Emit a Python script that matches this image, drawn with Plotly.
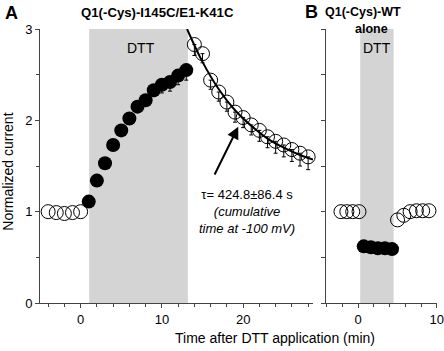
import plotly.graph_objects as go

# Panel A data
a_base_x = [-4, -3, -2, -1, 0]
a_base_y = [1.00, 0.99, 0.98, 0.99, 1.00]
a_dtt_x = [1, 2, 3, 4, 5, 6, 7, 8, 9, 10, 11, 12, 13]
a_dtt_y = [1.11, 1.34, 1.53, 1.73, 1.89, 2.02, 2.15, 2.22, 2.33, 2.39, 2.42, 2.49, 2.55]
a_dtt_err = [0.02, 0.03, 0.03, 0.04, 0.04, 0.05, 0.05, 0.06, 0.07, 0.09, 0.10, 0.10, 0.11]
a_wash_x = [14, 15, 16, 17, 18, 19, 20, 21, 22, 23, 24, 25, 26, 27, 28]
a_wash_y = [2.83, 2.73, 2.44, 2.31, 2.20, 2.09, 2.03, 1.95, 1.89, 1.82, 1.77, 1.73, 1.68, 1.64, 1.60]
a_wash_err = [0.12, 0.10, 0.10, 0.10, 0.10, 0.11, 0.11, 0.11, 0.12, 0.12, 0.13, 0.13, 0.13, 0.14, 0.14]
fit_x = [13.1, 15, 17, 19, 21, 23, 25, 27, 28.6]
fit_y = [3.00, 2.64, 2.34, 2.11, 1.94, 1.80, 1.70, 1.62, 1.57]

# Panel B data
b_base_x = [-2.2, -1.45, -0.7, 0.1]
b_base_y = [1.00, 1.00, 1.00, 1.00]
b_dtt_x = [0.7, 1.6, 2.5, 3.4, 4.3]
b_dtt_y = [0.62, 0.61, 0.60, 0.60, 0.59]
b_wash_x = [5.0, 5.8, 6.6, 7.4, 8.2, 9.0]
b_wash_y = [0.91, 0.96, 1.00, 1.01, 1.01, 1.01]

a_dtt_window = [1.05, 13.2]
b_dtt_window = [0.25, 4.5]

FONT = "Liberation Sans, Arial, sans-serif"
MS = 14

fig = go.Figure()

# Panel A
fig.add_trace(go.Scatter(x=fit_x, y=fit_y, mode="lines", line=dict(color="black", width=2, shape="spline"),
                         xaxis="x", yaxis="y", cliponaxis=True))
fig.add_trace(go.Scatter(x=a_base_x, y=a_base_y, mode="markers",
                         marker=dict(symbol="circle-open", size=MS, color="black", line=dict(width=1)),
                         xaxis="x", yaxis="y", cliponaxis=False))
fig.add_trace(go.Scatter(x=a_dtt_x, y=a_dtt_y, mode="markers",
                         marker=dict(symbol="circle", size=MS, color="black"),
                         error_y=dict(type="data", symmetric=False, array=[0]*len(a_dtt_err),
                                      arrayminus=a_dtt_err, color="black", thickness=1, width=2),
                         xaxis="x", yaxis="y", cliponaxis=False))
fig.add_trace(go.Scatter(x=a_wash_x, y=a_wash_y, mode="markers",
                         marker=dict(symbol="circle-open", size=MS, color="black", line=dict(width=1)),
                         error_y=dict(type="data", symmetric=False, array=[0]*len(a_wash_err),
                                      arrayminus=a_wash_err, color="black", thickness=1, width=2),
                         xaxis="x", yaxis="y", cliponaxis=False))

# Panel B
fig.add_trace(go.Scatter(x=b_base_x, y=b_base_y, mode="markers",
                         marker=dict(symbol="circle-open", size=MS, color="black", line=dict(width=1)),
                         xaxis="x2", yaxis="y2", cliponaxis=False))
fig.add_trace(go.Scatter(x=b_dtt_x, y=b_dtt_y, mode="markers",
                         marker=dict(symbol="circle", size=MS, color="black"),
                         xaxis="x2", yaxis="y2", cliponaxis=False))
fig.add_trace(go.Scatter(x=b_wash_x, y=b_wash_y, mode="markers",
                         marker=dict(symbol="circle-open", size=MS, color="black", line=dict(width=1)),
                         xaxis="x2", yaxis="y2", cliponaxis=False))

shade = "#d4d4d4"
fig.add_shape(type="rect", xref="x", yref="y", x0=a_dtt_window[0], x1=a_dtt_window[1], y0=0, y1=3,
              fillcolor=shade, line=dict(width=0), layer="below")
fig.add_shape(type="rect", xref="x2", yref="y2", x0=b_dtt_window[0], x1=b_dtt_window[1], y0=0, y1=3,
              fillcolor=shade, line=dict(width=0), layer="below")

axis_common = dict(showline=True, linecolor="#444", linewidth=1, showgrid=False, zeroline=False,
                   ticks="outside", ticklen=4, tickcolor="#444", ticklabeloverflow="allow",
                   automargin=False,
                   tickfont=dict(family=FONT, size=13, color="black"))

fig.update_layout(
    width=444, height=351,
    margin=dict(l=40, r=7, t=29, b=48),
    paper_bgcolor="white", plot_bgcolor="white",
    showlegend=False,
    font=dict(family=FONT, color="black"),
    xaxis=dict(domain=[0, 0.6877], range=[-5, 28.6], dtick=10, tick0=0,
               minor=dict(dtick=2, ticks="outside", ticklen=3, tickcolor="#444"), **axis_common),
    yaxis=dict(domain=[0, 1], range=[0, 3], dtick=1,
               minor=dict(dtick=0.5, ticks="outside", ticklen=3, tickcolor="#444"), **axis_common),
    xaxis2=dict(domain=[0.7204, 1], range=[-4.1, 10.02], dtick=10, tick0=0, anchor="y2",
                minor=dict(dtick=2, ticks="outside", ticklen=3, tickcolor="#444"), **axis_common),
    yaxis2=dict(domain=[0, 1], range=[0, 3], dtick=0.5, anchor="x2", showticklabels=False,
                **axis_common),
)

def pann(text, x, y, size, bold=False, **kw):
    t = "<b>" + text + "</b>" if bold else text
    fig.add_annotation(text=t, x=x, y=y, xref="paper", yref="paper", showarrow=False,
                       xanchor="center", yanchor="middle",
                       font=dict(family=FONT, size=size, color="black"), **kw)

pann("A", -0.073, 1.058, 18, bold=True)
pann("Q1(-Cys)-I145C/E1-K41C", 0.295, 1.062, 13.2, bold=True)
pann("B", 0.683, 1.062, 18, bold=True)
pann("Q1(-Cys)-WT", 0.814, 1.062, 12.5, bold=True)
pann("alone", 0.836, 1.0, 12.5, bold=True)
pann("Time after DTT application (min)", 0.592, -0.128, 14)
pann("Normalized current", -0.08, 0.48, 14, textangle=-90)

fig.add_annotation(text="DTT", x=7.45, y=2.79, xref="x", yref="y", showarrow=False,
                   font=dict(family=FONT, size=14, color="black"))
fig.add_annotation(text="DTT", x=2.4, y=2.79, xref="x2", yref="y2", showarrow=False,
                   font=dict(family=FONT, size=14, color="black"))
fig.add_annotation(text="τ= 424.8±86.4 s<br><i>(cumulative<br>time at -100 mV)</i>",
                   x=20.5, y=1.0, xref="x", yref="y", showarrow=False, align="center",
                   xanchor="center", yanchor="middle",
                   font=dict(family=FONT, size=13, color="black"))
fig.add_annotation(text="", x=19.4, y=1.93, ax=16.4, ay=1.39, xref="x", yref="y", axref="x", ayref="y",
                   showarrow=True, arrowhead=2, arrowsize=1.2, arrowwidth=2, arrowcolor="black")

fig.write_html("out.html")
